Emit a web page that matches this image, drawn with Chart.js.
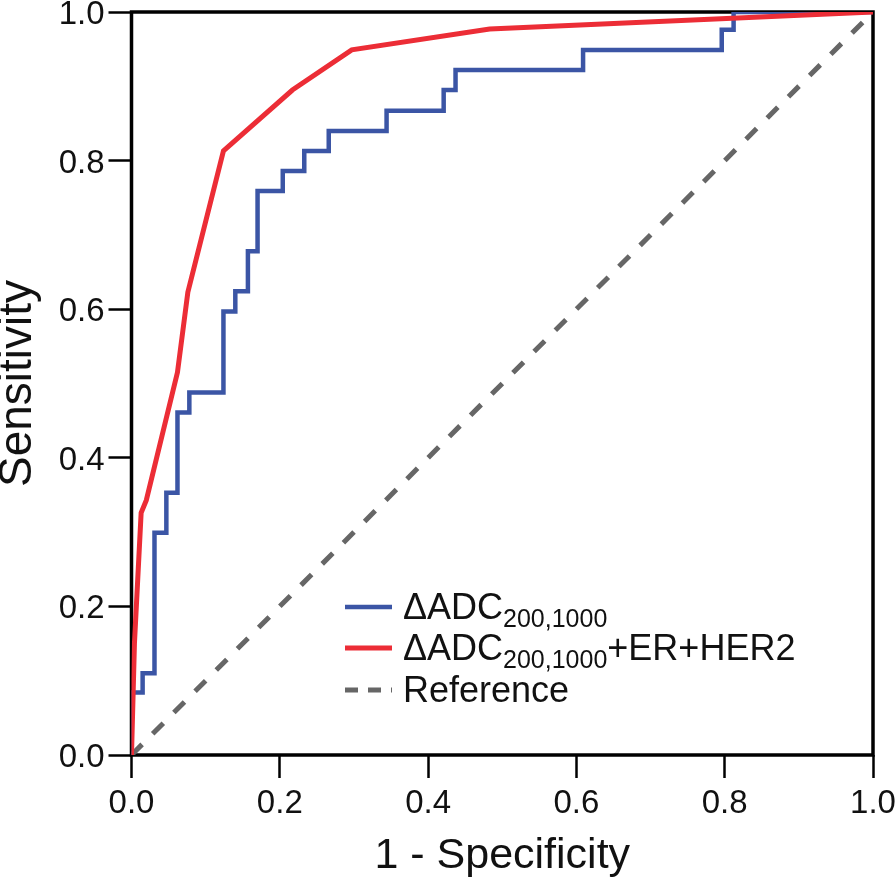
<!DOCTYPE html>
<html>
<head>
<meta charset="utf-8">
<script src="https://cdn.jsdelivr.net/npm/chart.js@4.4.1/dist/chart.umd.min.js"></script>
<style>
  html, body { margin: 0; padding: 0; background: #ffffff; }
  #wrap { width: 896px; height: 882px; position: relative; }
</style>
</head>
<body>
<div id="wrap"><canvas id="c" width="896" height="882"></canvas></div>
<script>
// ---- Data ----
const blueLabel = 'ΔADC';
const blueSub = '200,1000';
const redSuffix = '+ER+HER2';
const refLabel = 'Reference';

// ΔADC(200,1000): step ROC vertices (x = end of horizontal run, y = level)
const blueFpr = [0, 0.015, 0.031, 0.047, 0.062, 0.078, 0.124, 0.140, 0.157, 0.170, 0.204, 0.233, 0.266, 0.344, 0.421, 0.437, 0.609, 0.796, 0.812, 1.0];
const blueTpr = [0, 0.084, 0.110, 0.299, 0.353, 0.461, 0.488, 0.597, 0.624, 0.678, 0.759, 0.786, 0.813, 0.840, 0.867, 0.895, 0.922, 0.949, 0.976, 1.0];

// ΔADC(200,1000)+ER+HER2: smooth-ish ROC polyline
const redFpr = [0, 0.004, 0.013, 0.020, 0.062, 0.076, 0.124, 0.217, 0.297, 0.483, 1.0];
const redTpr = [0, 0.151, 0.326, 0.343, 0.515, 0.623, 0.813, 0.895, 0.949, 0.977, 1.0];

// Reference diagonal
const refFpr = [0, 1];
const refTpr = [0, 1];

const xTicks = [0, 0.2, 0.4, 0.6, 0.8, 1.0];
const yTicks = [0, 0.2, 0.4, 0.6, 0.8, 1.0];

const FONT = '"Liberation Sans", Arial, Helvetica, sans-serif';
const BLUE = '#3b55a5';
const RED = '#ec2d36';
const GRAY = '#666666';

function pts(xs, ys) { return xs.map((x, i) => ({ x: x, y: ys[i] })); }

const framePlugin = {
  id: 'frame',
  beforeDatasetsDraw(chart) {
    const { ctx, chartArea: a } = chart;
    ctx.save();
    ctx.strokeStyle = '#000';
    ctx.lineWidth = 3.5;
    ctx.strokeRect(a.left, a.top, a.right - a.left, a.bottom - a.top);
    ctx.restore();
  }
};

const legendPlugin = {
  id: 'customLegend',
  afterDatasetsDraw(chart) {
    const { ctx } = chart;
    const ds = chart.data.datasets;
    const order = [1, 0, 2]; // blue, red, reference
    const x0 = 345, x1 = 392, tx = 403;
    const rows = [607, 648, 690];
    ctx.save();
    order.forEach((di, r) => {
      const d = ds[di];
      const y = rows[r];
      ctx.beginPath();
      ctx.strokeStyle = d.borderColor;
      ctx.lineWidth = d.borderWidth;
      ctx.setLineDash(d.legendDash || []);
      ctx.moveTo(x0, y);
      ctx.lineTo(x1, y);
      ctx.stroke();
      ctx.setLineDash([]);
      ctx.fillStyle = '#111';
      ctx.textBaseline = 'alphabetic';
      ctx.textAlign = 'left';
      const base = y + 12;
      let cx = tx;
      if (d.legendParts) {
        d.legendParts.forEach(p => {
          ctx.font = (p.sub ? '25px ' : '36px ') + FONT;
          ctx.fillText(p.t, cx, p.sub ? base + 8 : base);
          cx += ctx.measureText(p.t).width;
        });
      } else {
        ctx.font = '36px ' + FONT;
        ctx.fillText(d.label, cx, base);
      }
    });
    ctx.restore();
  }
};

new Chart(document.getElementById('c'), {
  type: 'scatter',
  data: {
    datasets: [
      {
        label: blueLabel + blueSub + redSuffix,
        legendParts: [{ t: blueLabel }, { t: blueSub, sub: true }, { t: redSuffix }],
        data: pts(redFpr, redTpr),
        showLine: true,
        borderColor: RED,
        borderWidth: 5,
        pointRadius: 0,
        tension: 0,
        order: 0
      },
      {
        label: blueLabel + blueSub,
        legendParts: [{ t: blueLabel }, { t: blueSub, sub: true }],
        data: pts(blueFpr, blueTpr),
        showLine: true,
        stepped: 'after',
        borderColor: BLUE,
        borderWidth: 4.5,
        pointRadius: 0,
        order: 1
      },
      {
        label: refLabel,
        data: pts(refFpr, refTpr),
        showLine: true,
        borderColor: GRAY,
        borderWidth: 5,
        borderDash: [15, 15],
        legendDash: [13, 10],
        pointRadius: 0,
        order: 2
      }
    ]
  },
  options: {
    responsive: false,
    animation: false,
    events: [],
    layout: { padding: { top: 12, right: 23, left: 0, bottom: 0 } },
    plugins: {
      legend: { display: false },
      tooltip: { enabled: false }
    },
    scales: {
      x: {
        type: 'linear',
        min: 0, max: 1,
        afterBuildTicks(s) { s.ticks = xTicks.map(v => ({ value: v })); },
        afterFit(s) { s.height = 127; s.paddingLeft = 0; s.paddingRight = 0; },
        border: { display: false },
        grid: { drawOnChartArea: false, drawTicks: true, tickLength: 23, tickWidth: 2.5, color: '#000' },
        ticks: {
          color: '#111',
          font: { family: FONT, size: 33 },
          padding: 6,
          maxRotation: 0,
          callback: v => Number(v).toFixed(1)
        },
        title: {
          display: true,
          text: '1 - Specificity',
          color: '#111',
          font: { family: FONT, size: 43 },
          padding: { top: 0, bottom: 0 }
        }
      },
      y: {
        type: 'linear',
        min: 0, max: 1,
        afterBuildTicks(s) { s.ticks = yTicks.map(v => ({ value: v })); },
        afterFit(s) { s.width = 131.5; s.paddingTop = 0; s.paddingBottom = 0; },
        border: { display: false },
        grid: { drawOnChartArea: false, drawTicks: true, tickLength: 23, tickWidth: 2.5, color: '#000' },
        ticks: {
          color: '#111',
          font: { family: FONT, size: 33 },
          padding: 4,
          labelOffset: 3,
          callback: v => Number(v).toFixed(1)
        },
        title: {
          display: true,
          text: 'Sensitivity',
          color: '#111',
          font: { family: FONT, size: 46, lineHeight: 0.8 },
          padding: { top: 0, bottom: 0 }
        }
      }
    }
  },
  plugins: [framePlugin, legendPlugin]
});
</script>
</body>
</html>
